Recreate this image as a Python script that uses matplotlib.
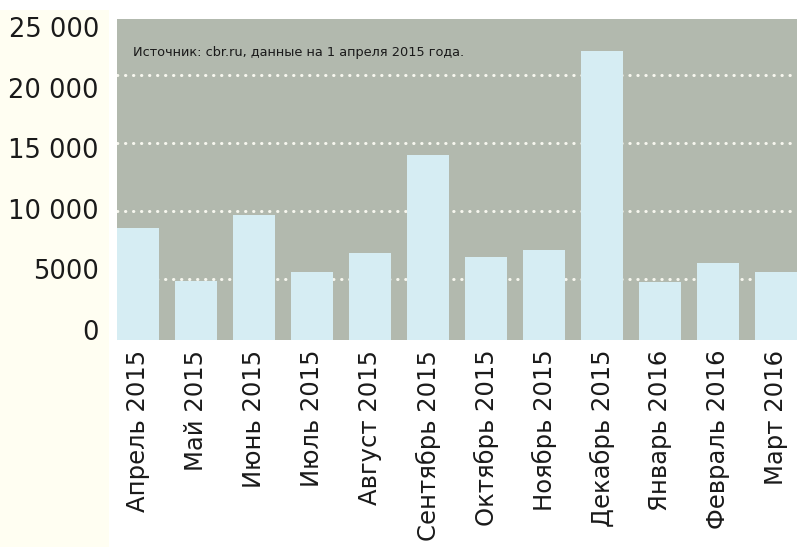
import matplotlib
matplotlib.use("Agg")
import matplotlib.pyplot as plt
from matplotlib import font_manager
from matplotlib.patches import Rectangle

months = ["Апрель 2015", "Май 2015", "Июнь 2015", "Июль 2015", "Август 2015",
          "Сентябрь 2015", "Октябрь 2015", "Ноябрь 2015", "Декабрь 2015",
          "Январь 2016", "Февраль 2016", "Март 2016"]
values = [8770, 4880, 9730, 5540, 6930, 14140, 6640, 7150, 21790, 4800, 6200, 5540]
grid_values = [5000, 10000, 15000, 20000]
label_values = [0, 5000, 10000, 15000, 20000, 25000]
label_texts = ["0", "5000", "10 000", "15 000", "20 000", "25 000"]
source_text = "Источник: cbr.ru, данные на 1 апреля 2015 года."

BG_LEFT = "#fffef2"
PLOT_BG = "#b2b9ae"
BAR = "#d6edf3"
DOT = "#f7f7ef"
TXT = "#1a1a1a"

def has_font(name):
    try:
        font_manager.findfont(font_manager.FontProperties(family=name), fallback_to_default=False)
        return True
    except Exception:
        return False

narrow = "Liberation Sans Narrow" if has_font("Liberation Sans Narrow") else "DejaVu Sans"
plt.rcParams["font.family"] = ["DejaVu Sans"]

fig = plt.figure(figsize=(7.98, 5.47), dpi=100)
fig.patch.set_facecolor("white")
fig.patches.append(Rectangle((0, 0), 109 / 798, 1 - 10 / 547, transform=fig.transFigure,
                             facecolor=BG_LEFT, edgecolor="none", zorder=-5))

pos = [117 / 798, 1 - 340 / 547, 680 / 798, 321.3 / 547]
ax = fig.add_axes(pos)
ax.set_zorder(1)
ax.set_facecolor(PLOT_BG)
x = list(range(len(months)))
ax.bar(x, values, width=0.724, color=BAR, edgecolor="none", zorder=3)
ax.set_xlim(-0.362, len(months) - 1 + 0.362)
ax.set_ylim(537, 24162)
for g in grid_values:
    ax.axhline(g, color=DOT, linewidth=2.2, linestyle=(0, (0.1, 2.52)),
               dash_capstyle="round", zorder=1)
ax.set_yticks([])
ax.set_xticks(x)
ax.set_xticklabels(months, rotation=90, fontsize=17.5, color=TXT, ha="center", va="top")
ax.tick_params(axis="x", length=0, pad=7)
for s in ax.spines.values():
    s.set_visible(False)

ax.text(0.0235, 0.896, source_text, transform=ax.transAxes,
        fontsize=11.5 if narrow != "DejaVu Sans" else 9.3,
        family=[narrow, "DejaVu Sans"], color=TXT, va="center", ha="left", zorder=5)

# label axis (tick labels sit on their own scale, as in the original)
lab = fig.add_axes(pos)
lab.set_zorder(2)
lab.patch.set_visible(False)
lab.set_ylim(-847, 25707)
lab.set_yticks(label_values)
lab.set_yticklabels(label_texts, fontsize=18.5, color=TXT)
lab.tick_params(axis="y", length=0, pad=13)
lab.set_xticks([])
for s in lab.spines.values():
    s.set_visible(False)

fig.savefig("out.png", dpi=100, facecolor=fig.get_facecolor())
